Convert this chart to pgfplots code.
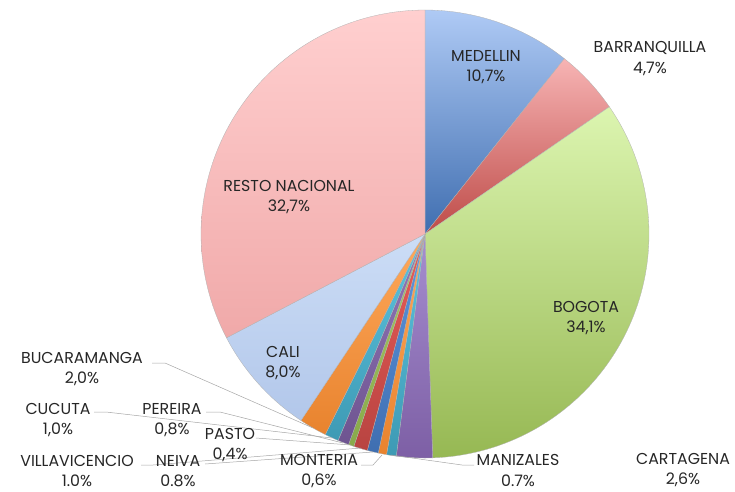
\documentclass[border=0pt]{standalone}
\usepackage{pgfplots}
\pgfplotsset{compat=1.18}
\usepackage{fontspec}
\setmainfont{Poppins}
\definecolor{medT}{HTML}{AFCAF5}\definecolor{medB}{HTML}{3F6EB0}
\definecolor{barT}{HTML}{F7B4B4}\definecolor{barB}{HTML}{BE4B48}
\definecolor{bogT}{HTML}{DCF5B0}\definecolor{bogB}{HTML}{96B853}
\definecolor{carT}{HTML}{A68ED0}\definecolor{carB}{HTML}{7D5FA5}
\definecolor{aquT}{HTML}{5CC4E0}\definecolor{aquB}{HTML}{3E9AB4}
\definecolor{oraT}{HTML}{FFA95C}\definecolor{oraB}{HTML}{E8832E}
\definecolor{bluT}{HTML}{5E98E2}\definecolor{bluB}{HTML}{3F6EB0}
\definecolor{redT}{HTML}{EB5C58}\definecolor{redB}{HTML}{B84441}
\definecolor{greT}{HTML}{AACC66}\definecolor{greB}{HTML}{88A94A}
\definecolor{purT}{HTML}{9378BA}\definecolor{purB}{HTML}{6E5490}
\definecolor{calT}{HTML}{CCDDF6}\definecolor{calB}{HTML}{B2C7EA}
\definecolor{resT}{HTML}{FFCFCF}\definecolor{resB}{HTML}{F0A9A9}
\xdef\cum{0}
% #1 value (percent), #2 top colour, #3 bottom colour
\newcommand\slice[3]{%
  \pgfmathsetmacro\aS{90-\cum/100.1*360}%
  \pgfmathsetmacro\cumn{\cum+#1}\xdef\cum{\cumn}%
  \pgfmathsetmacro\aE{90-\cum/100.1*360}%
  \addplot[draw=black!30, line width=0.3pt, top color=#2, bottom color=#3,
    domain=\aE:\aS, samples=80, no markers]
    ({425+224*cos(x)},{234-224*sin(x)}) -- (axis cs:425,234) -- cycle;
}
\newcommand\lbl[3]{\node[align=center, font=\fontsize{15.8}{20.5}\selectfont, text=black!85, inner sep=0pt] at (axis cs:#1,#2) {#3};}
\begin{document}
\begin{tikzpicture}
\begin{axis}[hide axis, scale only axis, width=735pt, height=491pt,
  xmin=0, xmax=735, ymin=0, ymax=491, y dir=reverse, clip=false]
\addplot[draw=none, no markers] coordinates {(0,0) (735,491)};
\slice{10.7}{medT}{medB}
\slice{4.7}{barT}{barB}
\slice{34.1}{bogT}{bogB}
\slice{2.6}{carT}{carB}
\slice{0.7}{aquT}{aquB}
\slice{0.6}{oraT}{oraB}
\slice{0.8}{bluT}{bluB}
\slice{1.0}{redT}{redB}
\slice{0.4}{greT}{greB}
\slice{0.8}{purT}{purB}
\slice{1.0}{aquT}{aquB}
\slice{2.0}{oraT}{oraB}
\slice{8.0}{calT}{calB}
\slice{32.7}{resT}{resB}
% leader lines
\addplot[black!35, line width=0.5pt, no markers] coordinates {(152,363) (165,363) (313,428)};
\addplot[black!35, line width=0.5pt, no markers] coordinates {(94,412) (106,412) (332,438)};
\addplot[black!35, line width=0.5pt, no markers] coordinates {(206,412) (220,412) (343,443)};
\addplot[black!35, line width=0.5pt, no markers] coordinates {(256,438) (351,445)};
\addplot[black!35, line width=0.5pt, no markers] coordinates {(141,465) (153,465) (361,448)};
\addplot[black!35, line width=0.5pt, no markers] coordinates {(205,464) (373,452)};
\addplot[black!35, line width=0.5pt, no markers] coordinates {(361,465) (373,465) (382,455)};
\addplot[black!35, line width=0.5pt, no markers] coordinates {(474,465) (462,465) (391,455)};
% labels
\lbl{486}{67}{MEDELLIN\\10,7\%}
\lbl{650}{58.5}{BARRANQUILLA\\4,7\%}
\lbl{586}{318}{BOGOTA\\34,1\%}
\lbl{683}{470}{CARTAGENA\\2,6\%}
\lbl{518}{470.5}{MANIZALES\\0.7\%}
\lbl{319}{471}{MONTERIA\\0,6\%}
\lbl{289}{197}{RESTO NACIONAL\\32,7\%}
\lbl{283}{363}{CALI\\8,0\%}
\lbl{82}{369}{BUCARAMANGA\\2,0\%}
\lbl{58}{420}{CUCUTA\\1,0\%}
\lbl{172}{420}{PEREIRA\\0,8\%}
\lbl{230}{445}{PASTO\\0,4\%}
\lbl{77}{471}{VILLAVICENCIO\\1.0\%}
\lbl{178}{471}{NEIVA\\0.8\%}
\end{axis}
\pgfresetboundingbox
\path (current axis.south west) rectangle (current axis.north east);
\end{tikzpicture}
\end{document}
